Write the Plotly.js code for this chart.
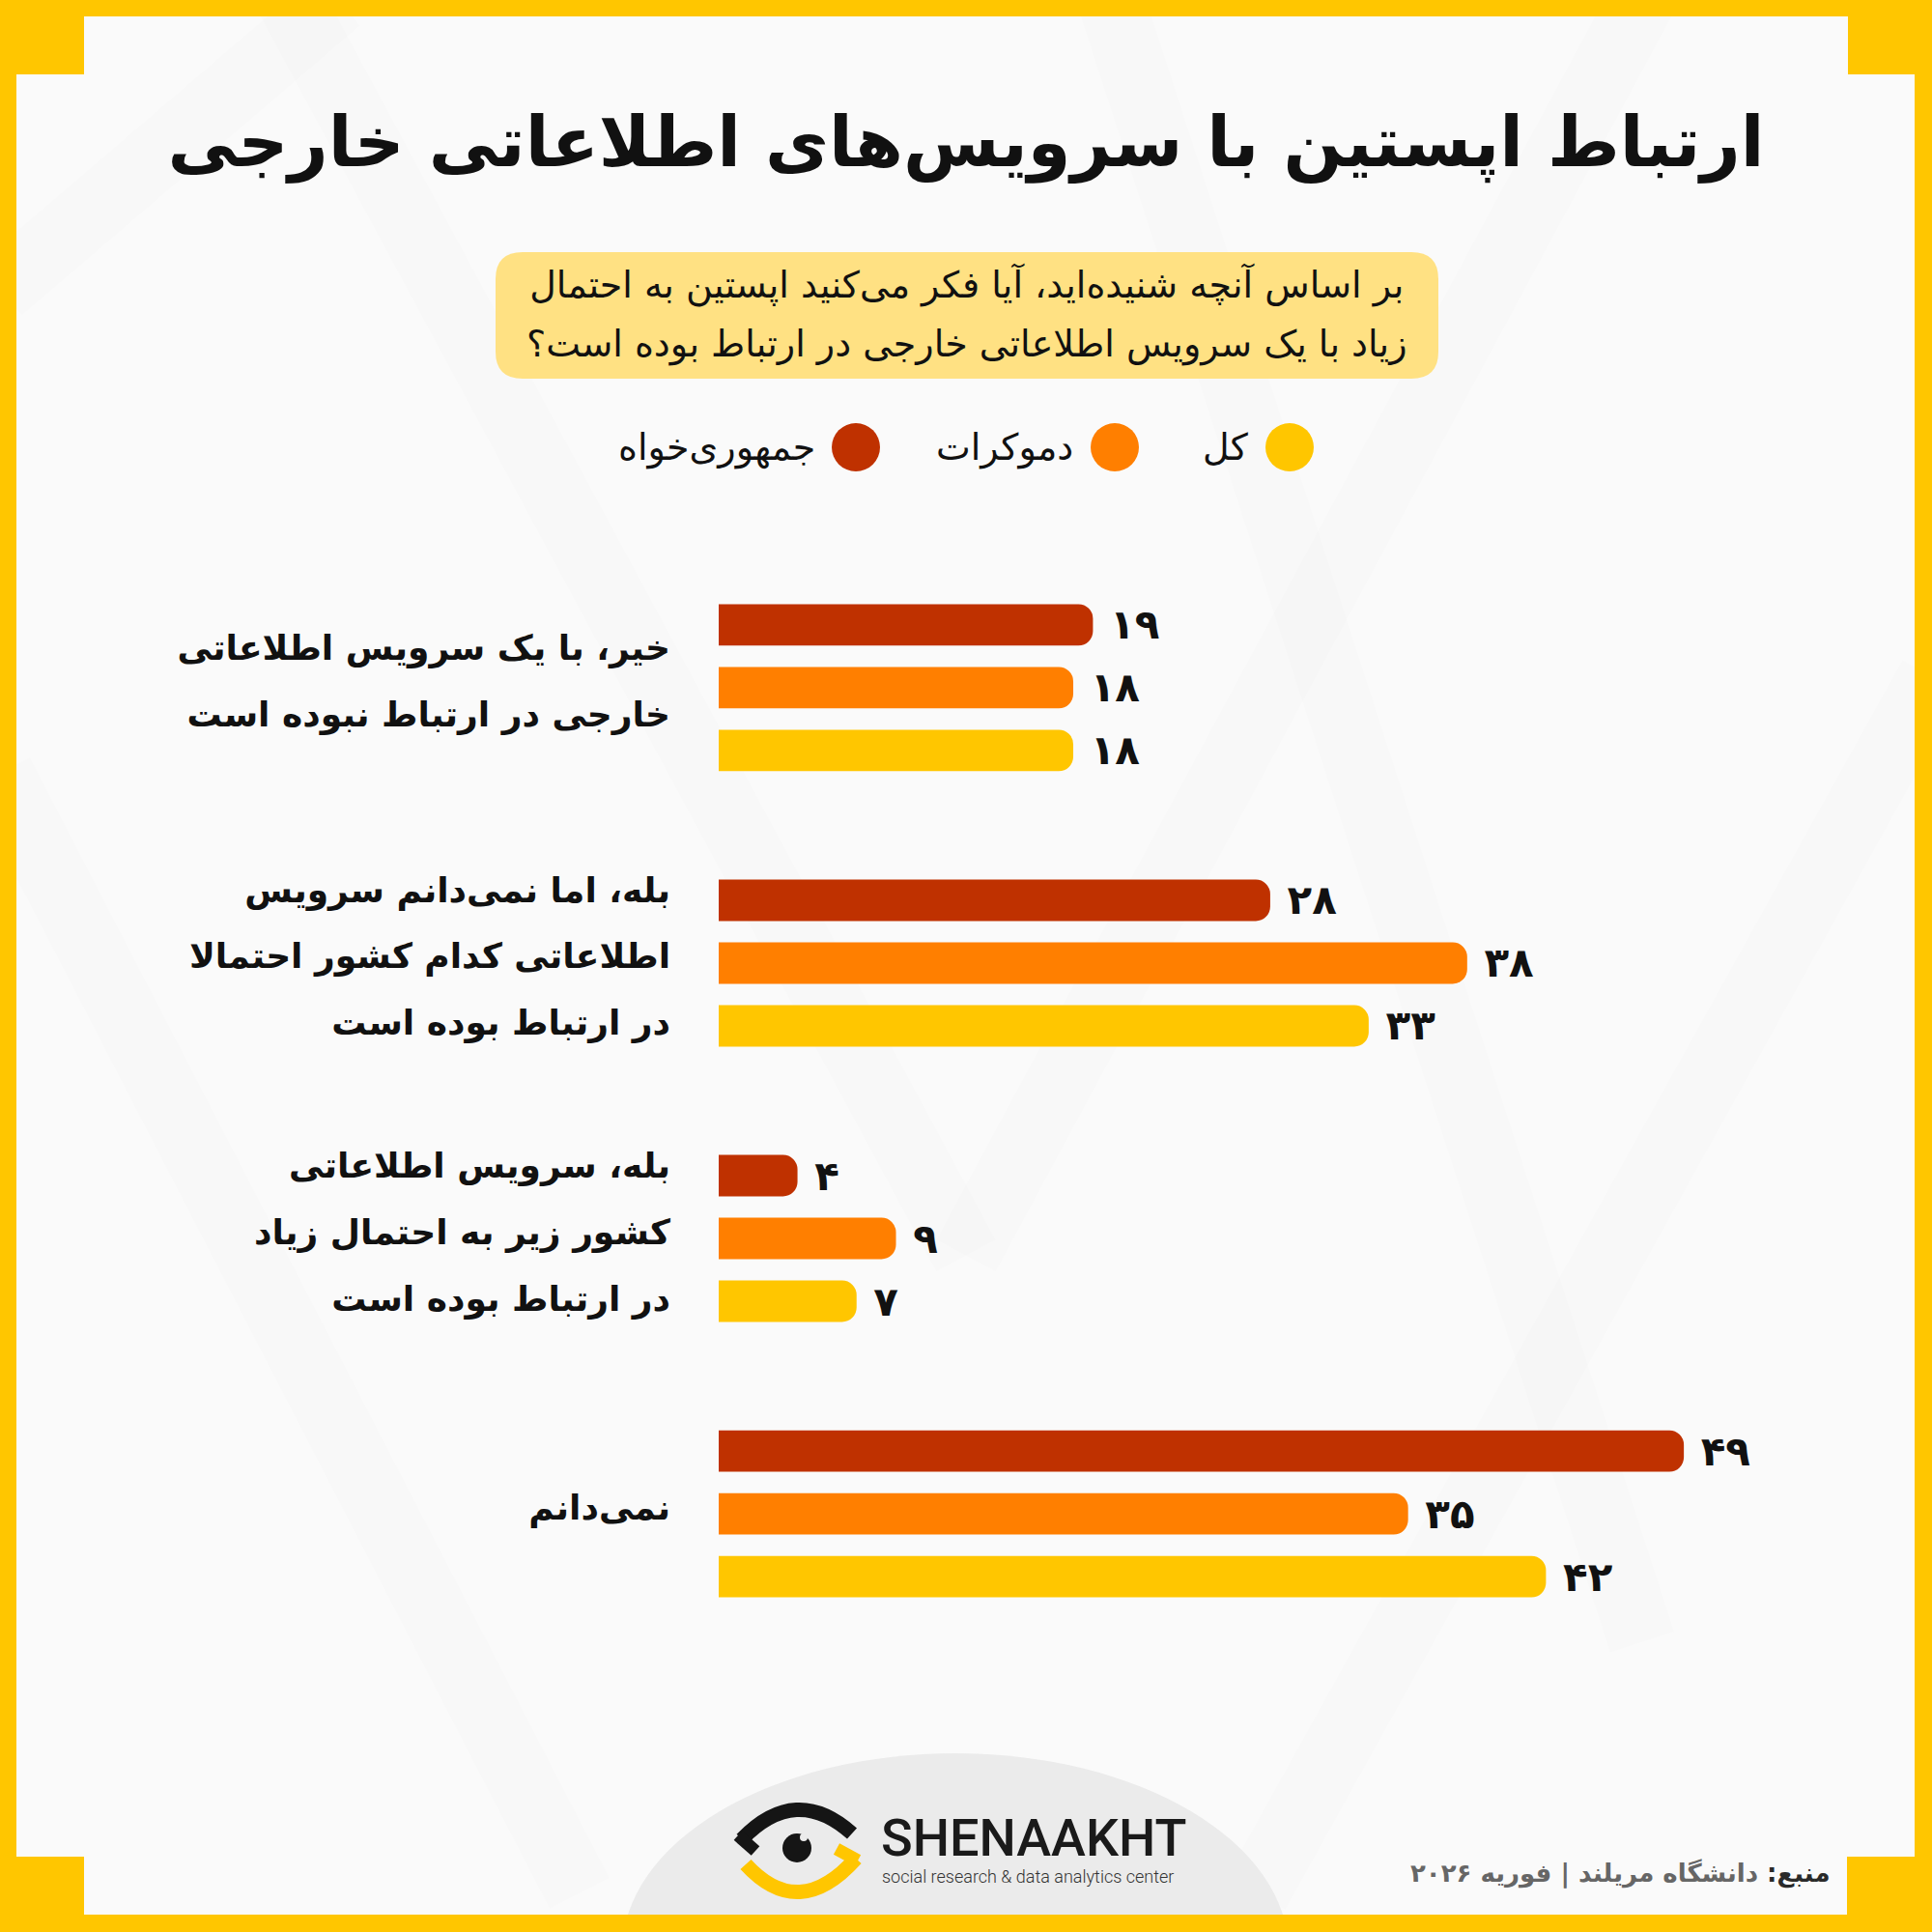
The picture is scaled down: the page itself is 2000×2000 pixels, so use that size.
<!DOCTYPE html>
<html>
<head>
<meta charset="utf-8">
<script src="https://cdn.plot.ly/plotly-3.0.1.min.js"></script>
<style>html,body{margin:0;padding:0;background:#FAFAFA;}#chart{width:2000px;height:2000px;}</style>
</head>
<body>
<div id="chart"></div>
<script>
// ---------- data ----------
const categories = [
  'خیر، با یک سرویس اطلاعاتی خارجی در ارتباط نبوده است',
  'بله، اما نمی‌دانم سرویس اطلاعاتی کدام کشور احتمالا در ارتباط بوده است',
  'بله، سرویس اطلاعاتی کشور زیر به احتمال زیاد در ارتباط بوده است',
  'نمی‌دانم'
];
const categoryLines = [
  ['خیر، با یک سرویس اطلاعاتی', 'خارجی در ارتباط نبوده است'],
  ['بله، اما نمی‌دانم سرویس', 'اطلاعاتی کدام کشور احتمالا', 'در ارتباط بوده است'],
  ['بله، سرویس اطلاعاتی', 'کشور زیر به احتمال زیاد', 'در ارتباط بوده است'],
  ['نمی‌دانم']
];
const seriesNames = ['جمهوری‌خواه', 'دموکرات', 'کل'];
const republicans = [19, 28, 4, 49];
const democrats = [18, 38, 9, 35];
const total = [18, 33, 7, 42];
const seriesColors = ['#BF3100', '#FF7F00', '#FFC600'];

const titleText = 'ارتباط اپستین با سرویس‌های اطلاعاتی خارجی';
const questionLines = ['بر اساس آنچه شنیده‌اید، آیا فکر می‌کنید اپستین به احتمال', 'زیاد با یک سرویس اطلاعاتی خارجی در ارتباط بوده است؟'];
const sourceLabel = 'منبع:';
const sourceText = 'دانشگاه مریلند | فوریه ۲۰۲۶';
const brandName = 'SHENAAKHT';
const brandTagline = 'social research & data analytics center';

// ---------- helpers ----------
const FA = '۰۱۲۳۴۵۶۷۸۹';
const toFa = n => String(n).replace(/\d/g, d => FA[d]);
const FONT = 'DejaVu Sans';
const SIZE = 2000, ML = 744, MR = 100, MT = 498, MB = 219;
const PW = SIZE - ML - MR, PH = SIZE - MT - MB;
const X = p => (p - ML) / PW;
const Y = p => (SIZE - MB - p) / PH;
const P = (x, y) => X(x).toFixed(5) + ',' + Y(y).toFixed(5);

function rect(x0, y0, x1, y1, color) {
  return {type: 'rect', xref: 'paper', yref: 'paper', layer: 'below',
    x0: X(x0), x1: X(x1), y0: Y(y0), y1: Y(y1), fillcolor: color, line: {width: 0}};
}
function roundRect(x0, y0, x1, y1, r, color) {
  const d = 'M' + P(x0 + r, y0) + ' L' + P(x1 - r, y0) + ' Q' + P(x1, y0) + ' ' + P(x1, y0 + r) +
    ' L' + P(x1, y1 - r) + ' Q' + P(x1, y1) + ' ' + P(x1 - r, y1) +
    ' L' + P(x0 + r, y1) + ' Q' + P(x0, y1) + ' ' + P(x0, y1 - r) +
    ' L' + P(x0, y0 + r) + ' Q' + P(x0, y0) + ' ' + P(x0 + r, y0) + ' Z';
  return {type: 'path', xref: 'paper', yref: 'paper', layer: 'below', path: d, fillcolor: color, line: {width: 0}};
}
function circ(cx, cy, rx, ry, color, layer) {
  return {type: 'circle', xref: 'paper', yref: 'paper', layer: layer || 'below',
    x0: X(cx - rx), x1: X(cx + rx), y0: Y(cy + ry), y1: Y(cy - ry), fillcolor: color, line: {width: 0}};
}
function stroke(d, color, w) {
  return {type: 'path', xref: 'paper', yref: 'paper', layer: 'below', path: d,
    fillcolor: 'rgba(0,0,0,0)', line: {color: color, width: w}};
}

const YELLOW = '#FFC600';
const shapes = [];
// faint background stripes
const stripes = [
  [[300, 0], [1000, 1300]], [[1700, 0], [1000, 1300]], [[1150, 0], [1700, 1700]],
  [[0, 800], [600, 1960]], [[2000, 700], [1300, 1960]], [[0, 300], [350, 0]]
];
stripes.forEach(s => shapes.push(stroke('M' + P(s[0][0], s[0][1]) + ' L' + P(s[1][0], s[1][1]), 'rgba(0,0,0,0.008)', 70)));
// footer dome
shapes.push(circ(989, 2020, 345, 205, '#EBEBEB'));
// frame
shapes.push(rect(0, 0, 2000, 17, YELLOW), rect(0, 1982, 2000, 2000, YELLOW),
  rect(0, 0, 17, 2000, YELLOW), rect(1982, 0, 2000, 2000, YELLOW),
  rect(0, 0, 87, 77, YELLOW), rect(1913, 0, 2000, 77, YELLOW),
  rect(0, 1922, 87, 2000, YELLOW), rect(1912, 1922, 2000, 2000, YELLOW));
// question box
shapes.push(roundRect(513, 261, 1489, 392, 28, '#FFE183'));
// legend markers
const legendCx = [886, 1154, 1335];
seriesColors.forEach((c, i) => shapes.push(circ(legendCx[i], 463, 25, 25, c)));
// eye logo
shapes.push(stroke('M' + P(768, 1904) + ' Q' + P(824, 1846) + ' ' + P(882, 1898), '#151515', 15));
shapes.push(stroke('M' + P(764, 1900) + ' L' + P(782, 1916), '#151515', 13));
shapes.push(stroke('M' + P(772, 1930) + ' Q' + P(827, 1990) + ' ' + P(886, 1924), YELLOW, 15));
shapes.push(stroke('M' + P(888, 1926) + ' L' + P(866, 1914), YELLOW, 13));
shapes.push(circ(825, 1913, 15, 15, '#151515'));
shapes.push(circ(832, 1902, 4, 4, '#EBEBEB'));

// ---------- annotations ----------
const ann = [];
const sp = (t, s) => '<span style="font-size:' + s + 'px">' + t + '</span>';
ann.push({xref: 'paper', yref: 'paper', x: X(1000), y: Y(326), xanchor: 'center', yanchor: 'middle',
  text: questionLines.map(l => sp(l, 38)).join('<br>'), align: 'center', showarrow: false,
  font: {family: FONT, size: 47, color: '#111'}});
const legendRight = [846, 1113, 1295];
seriesNames.forEach((n, i) => ann.push({xref: 'paper', yref: 'paper', x: X(legendRight[i]), y: Y(463),
  xanchor: 'right', yanchor: 'middle', text: n, showarrow: false,
  font: {family: FONT, size: 38, color: '#111'}}));
ann.push({xref: 'paper', yref: 'paper', x: X(1897), y: Y(1939), xanchor: 'right', yanchor: 'middle',
  text: '<span style="color:#2A2A2A">' + sourceLabel + '</span> ' + sourceText, showarrow: false,
  font: {family: FONT, size: 26, weight: 'bold', color: '#666'}});
ann.push({xref: 'paper', yref: 'paper', x: X(910), y: Y(1902), xanchor: 'left', yanchor: 'middle',
  text: brandName, showarrow: false, font: {family: 'Roboto', size: 54, weight: 500, color: '#1A1A1A'}});
ann.push({xref: 'paper', yref: 'paper', x: X(911), y: Y(1942), xanchor: 'left', yanchor: 'middle',
  text: brandTagline, showarrow: false, font: {family: 'Roboto', size: 18, weight: 300, color: '#333'}});

// ---------- traces ----------
const seriesValues = [republicans, democrats, total];
const traces = seriesValues.map((vals, i) => ({
  type: 'bar', orientation: 'h', name: seriesNames[i], y: categories, x: vals,
  marker: {color: seriesColors[i], cornerradius: 15, line: {width: 0}},
  text: vals.map(v => '\u00A0' + toFa(v)), textposition: 'outside', constraintext: 'none',
  cliponaxis: false, textfont: {family: FONT, size: 42, weight: 'bold', color: '#111'},
  hoverinfo: 'skip', showlegend: false
}));

const layout = {
  width: SIZE, height: SIZE,
  margin: {l: ML, r: MR, t: MT, b: MB, autoexpand: false},
  paper_bgcolor: '#FAFAFA', plot_bgcolor: 'rgba(0,0,0,0)',
  title: {text: titleText, x: 0.5, xref: 'container', y: 1 - 147 / SIZE, yref: 'container',
    xanchor: 'center', yanchor: 'middle', font: {family: FONT, size: 72, weight: 'bold', color: '#111'}},
  barmode: 'group', bargap: 0.316, bargroupgap: 0.34,
  xaxis: {range: [0, PW / 20.39], visible: false, fixedrange: true},
  yaxis: {type: 'category', categoryorder: 'array', categoryarray: categories, range: [3.75, -0.75],
    tickmode: 'array', tickvals: categories, ticktext: categoryLines.map(ls => ls.map(l => sp(l, 36)).join('<br>')),
    tickfont: {family: FONT, size: 53, color: '#111', weight: 'bold'}, ticklabelstandoff: 49, ticklabelshift: 13,
    showgrid: false, zeroline: false, showline: false, ticks: '', fixedrange: true, automargin: false},
  shapes: shapes, annotations: ann, showlegend: false
};
Plotly.newPlot('chart', traces, layout, {displayModeBar: false, staticPlot: true});
</script>
</body>
</html>
